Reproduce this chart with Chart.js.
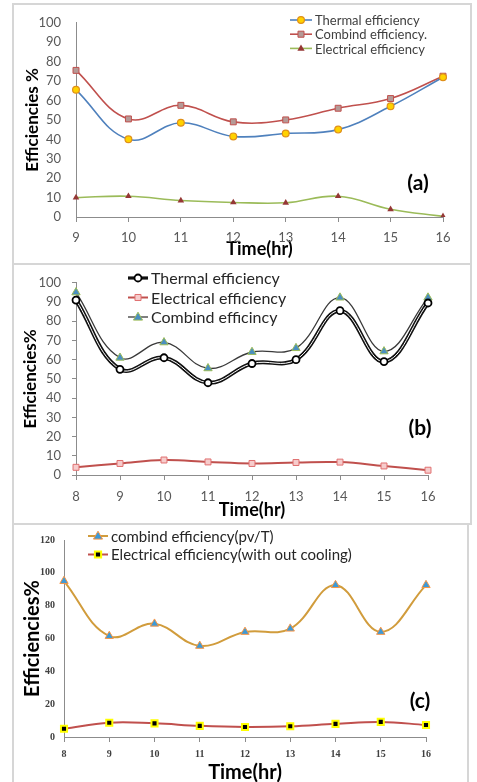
<!DOCTYPE html>
<html>
<head>
<meta charset="utf-8">
<script src="https://cdn.jsdelivr.net/npm/chart.js@4.4.1/dist/chart.umd.min.js"></script>
<style>
    html, body { margin: 0; padding: 0; background: #fff; }
    body { width: 477px; height: 782px; position: relative; overflow: hidden; }
    .frame { position: absolute; border: 2px solid #d6d6d6; box-sizing: border-box; }
    .wrap { position: absolute; left: 0; width: 477px; }
    canvas { display: block; }
</style>
</head>
<body>
<div class="frame" style="left:12px;top:3px;width:460px;height:262px"></div>
<div class="frame" style="left:12px;top:263px;width:460px;height:262px"></div>
<div class="frame" style="left:12px;top:523px;width:457px;height:270px"></div>

<div class="wrap" style="top:0;height:262px"><canvas id="chartA"></canvas></div>
<div class="wrap" style="top:264px;height:260px"><canvas id="chartB"></canvas></div>
<div class="wrap" style="top:524px;height:262px"><canvas id="chartC"></canvas></div>

<script>
// (a)
const hoursA = ['9', '10', '11', '12', '13', '14', '15', '16'];
const thermalA = [65.5, 40, 48.5, 41.5, 43, 45, 57, 72];
const combindA = [75.5, 50.5, 57.5, 49, 50, 56, 61, 72.5];
const electricalA = [10, 10.7, 8.5, 7.5, 7.3, 10.7, 4, 0.3];

// (b)
const hoursB = ['8', '9', '10', '11', '12', '13', '14', '15', '16'];
const thermalB = [91, 55, 61, 48, 58, 60, 85.5, 59, 89.5];
const electricalB = [4, 6, 7.8, 6.8, 6, 6.5, 6.7, 4.7, 2.5];
const combindB = [95, 61, 69, 55.5, 64, 66, 92.3, 64.3, 92.3];

// (c)
const hoursC = ['8', '9', '10', '11', '12', '13', '14', '15', '16'];
const combindC = [95, 61.5, 69, 55.5, 64, 66, 92.5, 64, 92.5];
const electricalC = [5, 8.7, 8.3, 6.8, 6.1, 6.5, 8, 9.2, 7.3];

const FONT = 'Lato, "Open Sans", sans-serif';
const AXIS = '#8c8c8c';

function drawMarker(ctx, style, x, y, r, fill, stroke, bw) {
    ctx.save();
    ctx.fillStyle = fill;
    ctx.strokeStyle = stroke;
    ctx.lineWidth = bw;
    ctx.beginPath();
    if (style === 'circle') {
        ctx.arc(x, y, r, 0, Math.PI * 2);
    } else if (style === 'rect') {
        ctx.rect(x - r * 0.72, y - r * 0.72, r * 1.44, r * 1.44);
    } else {
        ctx.moveTo(x, y - r);
        ctx.lineTo(x + r * 0.95, y + r * 0.65);
        ctx.lineTo(x - r * 0.95, y + r * 0.65);
        ctx.closePath();
    }
    ctx.fill();
    if (bw) ctx.stroke();
    ctx.restore();
}

// legend + panel letter drawn on the canvas
const refLegend = {
    id: 'refLegend',
    afterDraw(chart, args, opts) {
        const ctx = chart.ctx;
        ctx.save();
        ctx.font = opts.font;
        ctx.textBaseline = 'middle';
        let y = opts.y;
        chart.data.datasets.forEach(ds => {
            if (!ds.label) return;
            ctx.strokeStyle = ds.borderColor;
            ctx.lineWidth = ds.borderWidth;
            ctx.beginPath();
            ctx.moveTo(opts.x, y);
            ctx.lineTo(opts.x + opts.swatch, y);
            ctx.stroke();
            drawMarker(ctx, ds.pointStyle, opts.x + opts.swatch / 2, y, ds.pointRadius,
                ds.pointBackgroundColor, ds.pointBorderColor, ds.pointBorderWidth);
            ctx.fillStyle = opts.color;
            ctx.fillText(ds.label, opts.x + opts.swatch + 3, y + 1);
            y += opts.dy;
        });
        ctx.font = 'bold 21px ' + FONT;
        ctx.fillStyle = '#000';
        ctx.textAlign = 'center';
        ctx.fillText(opts.tag, opts.tagX, opts.tagY);
        ctx.restore();
    }
};

function makeChart(id, cfg) {
    new Chart(document.getElementById(id), {
        type: 'line',
        data: { labels: cfg.labels, datasets: cfg.datasets },
        options: {
            responsive: true,
            maintainAspectRatio: false,
            animation: false,
            layout: { padding: cfg.padding },
            elements: { line: { tension: 0.4 } },
            plugins: {
                legend: { display: false },
                tooltip: { enabled: false },
                refLegend: cfg.legend
            },
            scales: {
                x: {
                    grid: { display: true, drawOnChartArea: false, tickLength: 5, color: AXIS },
                    border: { display: true, color: AXIS },
                    ticks: { color: cfg.tickColor, font: cfg.xTickFont, padding: cfg.xTickPad, autoSkip: false, maxRotation: 0 },
                    title: { display: true, text: 'Time(hr)', color: '#000', font: cfg.xTitleFont, padding: { top: 0, bottom: cfg.xTitlePad } },
                    afterFit(s) { s.height = cfg.xHeight; }
                },
                y: {
                    min: 0,
                    max: cfg.yMax,
                    grid: cfg.yGrid,
                    border: { display: true, color: AXIS },
                    ticks: { stepSize: cfg.yStep, color: cfg.tickColor, font: cfg.yTickFont, padding: cfg.yTickPad },
                    title: { display: true, text: cfg.yTitle, color: '#000', font: cfg.yTitleFont, padding: { top: cfg.yTitlePad, bottom: 0 } },
                    afterFit(s) { s.width = cfg.yWidth; }
                }
            }
        },
        plugins: [refLegend]
    });
}

makeChart('chartA', {
    labels: hoursA,
    padding: { top: 17, right: 34, left: 0, bottom: 0 },
    datasets: [
        { label: 'Thermal efficiency', data: thermalA, borderColor: '#4f81bd', borderWidth: 1.6,
          pointStyle: 'circle', pointRadius: 3.4, pointBackgroundColor: '#ffd200', pointBorderColor: '#e0901a', pointBorderWidth: 1.2 },
        { label: 'Combind efficiency.', data: combindA, borderColor: '#c0504d', borderWidth: 1.6,
          pointStyle: 'rect', pointRadius: 4.2, pointBackgroundColor: '#b59a97', pointBorderColor: '#c0504d', pointBorderWidth: 1 },
        { label: 'Electrical efficiency', data: electricalA, borderColor: '#9bbb59', borderWidth: 1.6,
          pointStyle: 'triangle', pointRadius: 3.8, pointBackgroundColor: '#953735', pointBorderColor: '#953735', pointBorderWidth: 0 }
    ],
    legend: { x: 290, y: 20, dy: 14.2, swatch: 22, font: '13px ' + FONT, color: '#404040', tag: '(a)', tagX: 418, tagY: 183 },
    tickColor: '#595959',
    xTickFont: { family: FONT, size: 13 }, xTickPad: 8, xHeight: 45,
    xTitleFont: { family: FONT, size: 18, weight: 'bold' }, xTitlePad: 2,
    yMax: 100, yStep: 10,
    yGrid: { display: false, drawTicks: false },
    yTickFont: { family: FONT, size: 13 }, yTickPad: 15,
    yTitle: 'Efficiencies %', yTitleFont: { family: FONT, size: 17, weight: 'bold' }, yTitlePad: 22, yWidth: 76
});

makeChart('chartB', {
    labels: hoursB,
    padding: { top: 13, right: 49, left: 0, bottom: 0 },
    datasets: [
        // thermal markers on top; its double line is drawn by the two unlabelled sets below
        { label: 'Thermal efficiency', data: thermalB, showLine: false, borderColor: '#111', borderWidth: 3.2, order: 0,
          pointStyle: 'circle', pointRadius: 3.5, pointBackgroundColor: '#fff', pointBorderColor: '#000', pointBorderWidth: 1.8 },
        { label: 'Electrical efficiency', data: electricalB, borderColor: '#c0504d', borderWidth: 2, order: 1,
          pointStyle: 'rect', pointRadius: 4.2, pointBackgroundColor: '#f6cccc', pointBorderColor: '#e07070', pointBorderWidth: 1 },
        { label: 'Combind efficincy', data: combindB, borderColor: '#3a3a3a', borderWidth: 1.3, order: 1,
          pointStyle: 'triangle', pointRadius: 4.8, pointBackgroundColor: '#4a8fc0', pointBorderColor: '#9bbb59', pointBorderWidth: 1 },
        { data: thermalB, borderColor: '#fff', borderWidth: 1, pointRadius: 0, order: 2 },
        { data: thermalB, borderColor: '#111', borderWidth: 4, pointRadius: 0, order: 3 }
    ],
    legend: { x: 128, y: 14, dy: 19.5, swatch: 20, font: '16px ' + FONT, color: '#262626', tag: '(b)', tagX: 420, tagY: 164 },
    tickColor: '#595959',
    xTickFont: { family: FONT, size: 13 }, xTickPad: 9, xHeight: 49,
    xTitleFont: { family: FONT, size: 18, weight: 'bold' }, xTitlePad: 3,
    yMax: 100, yStep: 10,
    yGrid: { display: true, drawOnChartArea: false, tickLength: 4, color: AXIS },
    yTickFont: { family: FONT, size: 13 }, yTickPad: 11,
    yTitle: 'Efficiencies%', yTitleFont: { family: FONT, size: 17, weight: 'bold' }, yTitlePad: 20, yWidth: 76
});

makeChart('chartC', {
    labels: hoursC,
    padding: { top: 16, right: 51, left: 0, bottom: 0 },
    datasets: [
        { label: 'combind efficiency(pv/T)', data: combindC, borderColor: '#d19c3c', borderWidth: 2,
          pointStyle: 'triangle', pointRadius: 4.8, pointBackgroundColor: '#3d9ad6', pointBorderColor: '#f79646', pointBorderWidth: 1 },
        { label: 'Electrical efficiency(with out cooling)', data: electricalC, borderColor: '#c0504d', borderWidth: 2,
          pointStyle: 'rect', pointRadius: 4.3, pointBackgroundColor: '#000', pointBorderColor: '#ffff00', pointBorderWidth: 2 }
    ],
    legend: { x: 88, y: 12, dy: 18.5, swatch: 20, font: '15px ' + FONT, color: '#262626', tag: '(c)', tagX: 420, tagY: 177 },
    tickColor: '#404040',
    xTickFont: { family: '"Liberation Serif", serif', size: 10, weight: 'bold' }, xTickPad: 6, xHeight: 49,
    xTitleFont: { family: FONT, size: 20, weight: 'bold' }, xTitlePad: 1,
    yMax: 120, yStep: 20,
    yGrid: { display: false, drawTicks: false },
    yTickFont: { family: '"Liberation Serif", serif', size: 10, weight: 'bold' }, yTickPad: 9,
    yTitle: 'Efficiencies%', yTitleFont: { family: FONT, size: 20, weight: 'bold' }, yTitlePad: 21, yWidth: 64
});
</script>
</body>
</html>
